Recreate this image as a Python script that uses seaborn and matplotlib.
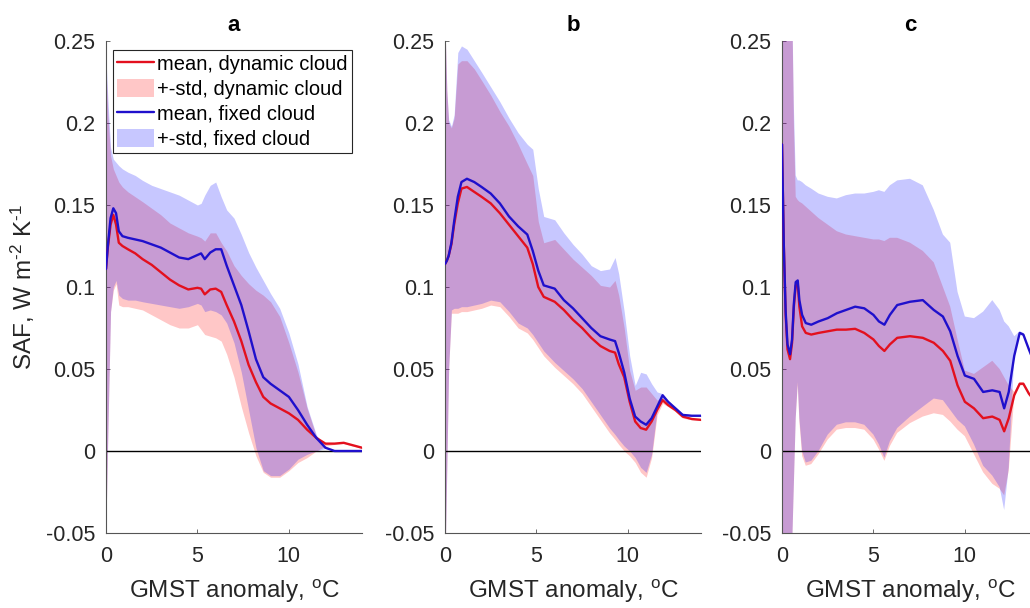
import numpy as np
import matplotlib
matplotlib.use('Agg')
import matplotlib.pyplot as plt
import seaborn as sns
from matplotlib.ticker import FuncFormatter

# ---- panel a ----
xa = [0, 0.1, 0.25, 0.4, 0.55, 0.7, 0.9, 1.2, 1.6, 2.0, 2.5, 3.0, 3.5, 4.0, 4.5, 5.0, 5.2, 5.4, 5.7,
      6.0, 6.3, 6.6, 7.0, 7.4, 7.8, 8.2, 8.6, 9.0, 9.5, 10.0, 10.5, 11.0, 11.5, 12.0, 12.5, 13.0, 13.5, 14.0]
a_dyn_mean = [0.111, 0.124, 0.138, 0.144, 0.138, 0.127, 0.125, 0.123, 0.1205, 0.117, 0.1135, 0.109, 0.1045,
              0.101, 0.0985, 0.0995, 0.099, 0.0955, 0.0985, 0.099, 0.097, 0.089, 0.079, 0.067, 0.0525, 0.042,
              0.033, 0.029, 0.026, 0.023, 0.019, 0.013, 0.008, 0.0045, 0.0045, 0.005, 0.0035, 0.002]
a_dyn_lo = [-0.045, 0.01, 0.085, 0.098, 0.102, 0.089, 0.088, 0.088, 0.087, 0.086, 0.083, 0.080, 0.077,
            0.075, 0.075, 0.077, 0.074, 0.071, 0.070, 0.069, 0.067, 0.059, 0.045, 0.027, 0.011, -0.003,
            -0.013, -0.016, -0.016, -0.012, -0.007, -0.004, 0.0, 0.003, 0.004, 0.0045, 0.003, 0.0015]
a_dyn_hi = [0.235, 0.205, 0.180, 0.172, 0.168, 0.164, 0.161, 0.158, 0.155, 0.152, 0.148, 0.144, 0.139,
            0.136, 0.133, 0.131, 0.130, 0.128, 0.133, 0.133, 0.127, 0.122, 0.113, 0.107, 0.102, 0.098,
            0.095, 0.091, 0.082, 0.066, 0.048, 0.026, 0.009, 0.005, 0.005, 0.0055, 0.004, 0.0025]
a_fix_mean = [0.111, 0.125, 0.142, 0.148, 0.145, 0.134, 0.131, 0.130, 0.129, 0.128, 0.126, 0.124, 0.121,
              0.118, 0.117, 0.1195, 0.1205, 0.117, 0.121, 0.123, 0.123, 0.113, 0.101, 0.089, 0.073, 0.056,
              0.045, 0.041, 0.037, 0.033, 0.025, 0.016, 0.008, 0.002, 0.0, 0.0, 0.0, 0.0]
a_fix_lo = [-0.045, 0.01, 0.085, 0.100, 0.104, 0.095, 0.093, 0.092, 0.092, 0.091, 0.090, 0.089, 0.088,
            0.087, 0.088, 0.090, 0.089, 0.085, 0.086, 0.085, 0.083, 0.078, 0.066, 0.048, 0.025, 0.002,
            -0.012, -0.015, -0.015, -0.011, -0.005, -0.002, 0.0, 0.0015, 0.0, 0.0, 0.0, 0.0]
a_fix_hi = [0.240, 0.215, 0.185, 0.178, 0.176, 0.174, 0.172, 0.170, 0.168, 0.165, 0.162, 0.160, 0.158,
            0.156, 0.153, 0.150, 0.151, 0.156, 0.162, 0.164, 0.155, 0.147, 0.142, 0.132, 0.121, 0.112,
            0.104, 0.096, 0.087, 0.072, 0.053, 0.027, 0.010, 0.002, 0.0005, 0.0003, 0.0002, 0.0001]

# ---- panel b ----
xb = [0, 0.1, 0.2, 0.35, 0.5, 0.7, 0.9, 1.2, 1.6, 2.0, 2.5, 3.0, 3.5, 4.0, 4.5, 4.8, 5.1, 5.4, 6.0, 6.5,
      7.0, 7.5, 8.0, 8.5, 9.0, 9.3, 9.5, 9.8, 10.1, 10.4, 10.7, 11.0, 11.3, 11.6, 11.9, 12.2, 12.6, 13.0, 13.5, 14.0]
b_dyn_mean = [0.114, 0.116, 0.119, 0.126, 0.138, 0.151, 0.160, 0.161, 0.158, 0.155, 0.151, 0.145, 0.138,
              0.131, 0.124, 0.114, 0.100, 0.094, 0.091, 0.086, 0.080, 0.075, 0.069, 0.064, 0.061, 0.060,
              0.053, 0.045, 0.030, 0.018, 0.014, 0.013, 0.018, 0.025, 0.031, 0.028, 0.025, 0.021, 0.0195, 0.019]
b_dyn_lo = [-0.07, -0.01, 0.05, 0.084, 0.084, 0.084, 0.085, 0.085, 0.086, 0.087, 0.089, 0.088, 0.082,
            0.075, 0.072, 0.068, 0.063, 0.058, 0.051, 0.046, 0.041, 0.035, 0.027, 0.019, 0.011, 0.007,
            0.004, 0.0, -0.003, -0.007, -0.013, -0.016, -0.004, 0.022, 0.029, 0.027, 0.024, 0.020, 0.019, 0.0185]
b_dyn_hi = [0.26, 0.22, 0.200, 0.197, 0.203, 0.236, 0.238, 0.238, 0.233, 0.226, 0.217, 0.207, 0.198,
            0.187, 0.175, 0.168, 0.140, 0.127, 0.129, 0.123, 0.117, 0.112, 0.107, 0.101, 0.100, 0.104,
            0.095, 0.075, 0.049, 0.037, 0.039, 0.039, 0.035, 0.031, 0.033, 0.029, 0.026, 0.022, 0.020, 0.0195]
b_fix_mean = [0.114, 0.116, 0.119, 0.127, 0.140, 0.155, 0.164, 0.166, 0.164, 0.161, 0.157, 0.151, 0.143,
              0.137, 0.132, 0.122, 0.110, 0.101, 0.099, 0.092, 0.087, 0.081, 0.075, 0.070, 0.068, 0.067,
              0.060, 0.048, 0.032, 0.021, 0.018, 0.016, 0.020, 0.027, 0.034, 0.030, 0.026, 0.022, 0.0215, 0.0215]
b_fix_lo = [-0.07, -0.01, 0.05, 0.086, 0.087, 0.087, 0.088, 0.088, 0.089, 0.090, 0.092, 0.091, 0.085,
            0.078, 0.075, 0.071, 0.066, 0.061, 0.054, 0.049, 0.044, 0.038, 0.030, 0.022, 0.014, 0.010,
            0.007, 0.003, 0.0, -0.004, -0.010, -0.013, -0.002, 0.025, 0.032, 0.029, 0.025, 0.021, 0.021, 0.021]
b_fix_hi = [0.26, 0.22, 0.202, 0.198, 0.205, 0.243, 0.247, 0.245, 0.238, 0.231, 0.222, 0.213, 0.203,
            0.194, 0.187, 0.184, 0.160, 0.143, 0.141, 0.133, 0.126, 0.120, 0.113, 0.110, 0.111, 0.118,
            0.108, 0.085, 0.058, 0.040, 0.048, 0.047, 0.041, 0.036, 0.035, 0.031, 0.027, 0.023, 0.022, 0.022]

# ---- panel c ----
xc = [0, 0.1, 0.2, 0.3, 0.44, 0.55, 0.65, 0.75, 0.86, 0.95, 1.1, 1.3, 1.6, 2.0, 2.5, 3.0, 3.5, 4.0, 4.5,
      5.0, 5.3, 5.6, 5.9, 6.3, 7.0, 7.7, 8.3, 8.8, 9.2, 9.6, 10.0, 10.5, 11.0, 11.5, 11.9, 12.15, 12.4,
      12.7, 13.0, 13.2, 13.5, 14.0]
c_dyn_mean = [0.187, 0.125, 0.083, 0.062, 0.056, 0.066, 0.088, 0.101, 0.102, 0.088, 0.076, 0.072, 0.071,
              0.072, 0.073, 0.074, 0.074, 0.0745, 0.072, 0.068, 0.064, 0.061, 0.065, 0.069, 0.070, 0.069,
              0.066, 0.061, 0.055, 0.040, 0.030, 0.026, 0.020, 0.021, 0.019, 0.012, 0.020, 0.034, 0.041,
              0.041, 0.035, 0.028]
c_dyn_lo = [-0.10, -0.10, -0.10, -0.10, -0.10, -0.06, -0.02, 0.02, 0.040, 0.018, -0.003, -0.009, -0.008,
            -0.002, 0.007, 0.013, 0.014, 0.014, 0.013, 0.007, 0.001, -0.006, 0.003, 0.011, 0.017, 0.021,
            0.023, 0.022, 0.018, 0.013, 0.009, -0.002, -0.013, -0.020, -0.023, -0.027, -0.012, 0.033,
            0.040, 0.040, 0.034, 0.027]
c_dyn_hi = [0.30, 0.30, 0.30, 0.30, 0.30, 0.28, 0.20, 0.155, 0.153, 0.152, 0.151, 0.149, 0.146, 0.142,
            0.138, 0.134, 0.132, 0.131, 0.130, 0.129, 0.129, 0.128, 0.130, 0.130, 0.127, 0.122, 0.115,
            0.100, 0.088, 0.068, 0.049, 0.047, 0.051, 0.055, 0.050, 0.045, 0.040, 0.036, 0.042, 0.042,
            0.036, 0.029]
c_fix_mean = [0.187, 0.125, 0.085, 0.065, 0.059, 0.068, 0.090, 0.103, 0.104, 0.092, 0.083, 0.078, 0.077,
              0.079, 0.081, 0.084, 0.086, 0.088, 0.087, 0.083, 0.079, 0.077, 0.083, 0.089, 0.091, 0.092,
              0.086, 0.082, 0.073, 0.058, 0.046, 0.044, 0.036, 0.037, 0.036, 0.026, 0.036, 0.058, 0.072,
              0.071, 0.062, 0.048]
c_fix_lo = [-0.10, -0.10, -0.10, -0.10, -0.10, -0.06, -0.02, 0.02, 0.042, 0.020, 0.0, -0.007, -0.006,
            0.0, 0.010, 0.016, 0.0175, 0.0175, 0.016, 0.010, 0.004, -0.004, 0.006, 0.014, 0.021, 0.027,
            0.032, 0.031, 0.025, 0.019, 0.015, 0.004, -0.009, -0.015, -0.022, -0.036, -0.010, 0.057,
            0.071, 0.070, 0.061, 0.047]
c_fix_hi = [0.30, 0.30, 0.30, 0.30, 0.30, 0.28, 0.21, 0.168, 0.165, 0.165, 0.164, 0.162, 0.160, 0.157,
            0.155, 0.154, 0.156, 0.157, 0.157, 0.158, 0.159, 0.158, 0.162, 0.165, 0.166, 0.162, 0.147,
            0.132, 0.127, 0.097, 0.082, 0.081, 0.085, 0.092, 0.086, 0.079, 0.076, 0.070, 0.073, 0.072,
            0.063, 0.049]

panels = [
    ('a', xa, a_dyn_mean, a_dyn_lo, a_dyn_hi, a_fix_mean, a_fix_lo, a_fix_hi),
    ('b', xb, b_dyn_mean, b_dyn_lo, b_dyn_hi, b_fix_mean, b_fix_lo, b_fix_hi),
    ('c', xc, c_dyn_mean, c_dyn_lo, c_dyn_hi, c_fix_mean, c_fix_lo, c_fix_hi),
]

sns.set_theme(style='ticks')
plt.rcParams['font.family'] = ['Liberation Sans', 'DejaVu Sans']
plt.rcParams['axes.unicode_minus'] = False
plt.rcParams['mathtext.fontset'] = 'custom'
plt.rcParams['mathtext.rm'] = 'Liberation Sans'
plt.rcParams['mathtext.it'] = 'Liberation Sans'

txt_col = '#262626'
red_line = '#e3101e'
blue_line = '#1f10cc'

fig = plt.figure(figsize=(10.3, 6.08), dpi=100)
lefts = [106 / 1030, 445 / 1030, 782 / 1030]
bottom = 1 - 533 / 608
height = (533 - 41) / 608
width = 256 / 1030

for i, (lab, x, dm, dl, dh, fm, fl, fh) in enumerate(panels):
    ax = fig.add_axes([lefts[i], bottom, width, height])
    f1 = ax.fill_between(x, dl, dh, color='red', alpha=0.22, lw=0)
    f2 = ax.fill_between(x, fl, fh, color='blue', alpha=0.22, lw=0)
    ax.axhline(0, color='black', lw=1.0, zorder=2)
    sns.lineplot(x=x, y=dm, ax=ax, color=red_line, lw=1.7, legend=False, zorder=3)
    sns.lineplot(x=x, y=fm, ax=ax, color=blue_line, lw=1.7, legend=False, zorder=4)
    ax.set_xlim(0, 14)
    ax.set_ylim(-0.05, 0.25)
    ax.set_xticks([0, 5, 10])
    ax.set_yticks(np.round(np.arange(-0.05, 0.2501, 0.05), 2))
    ax.yaxis.set_major_formatter(FuncFormatter(lambda v, p: f'{round(v, 2):g}'))
    ax.tick_params(direction='in', length=3, width=0.6, colors='#555555',
                   labelcolor=txt_col, labelsize=15.5)
    ax.tick_params(axis='y', pad=8)
    ax.tick_params(axis='x', pad=9)
    for s in ['top', 'right']:
        ax.spines[s].set_visible(False)
    for s in ['left', 'bottom']:
        ax.spines[s].set_color('#555555')
        ax.spines[s].set_linewidth(0.8)
    ax.set_title(lab, fontsize=16, fontweight='bold', color='black', pad=7)
    ax.set_xlabel('GMST anomaly, $^{\\rm o}$C', fontsize=17.5, color=txt_col, labelpad=8)
    ax.set_ylabel('')
    if i == 0:
        ax.set_ylabel('SAF, W m$^{\\text{-2}}$ K$^{\\text{-1}}$', fontsize=17.5, color=txt_col, labelpad=6)
        lines = ax.get_lines()
        handles = [lines[1], f1, lines[2], f2]
        labels = ['mean, dynamic cloud', '+-std, dynamic cloud',
                  'mean, fixed cloud', '+-std, fixed cloud']
        leg = ax.legend(handles, labels, loc='upper left', bbox_to_anchor=(7 / 256, 1 - 9 / 492),
                        borderaxespad=0, fontsize=14.5, frameon=True, fancybox=False,
                        framealpha=1, edgecolor='#262626', handlelength=1.85, handleheight=1.0,
                        handletextpad=0.15, borderpad=0.2, labelspacing=0.25)
        leg.get_frame().set_linewidth(0.8)
        for t in leg.get_texts():
            t.set_color('black')

plt.savefig('out.png', dpi=100)
